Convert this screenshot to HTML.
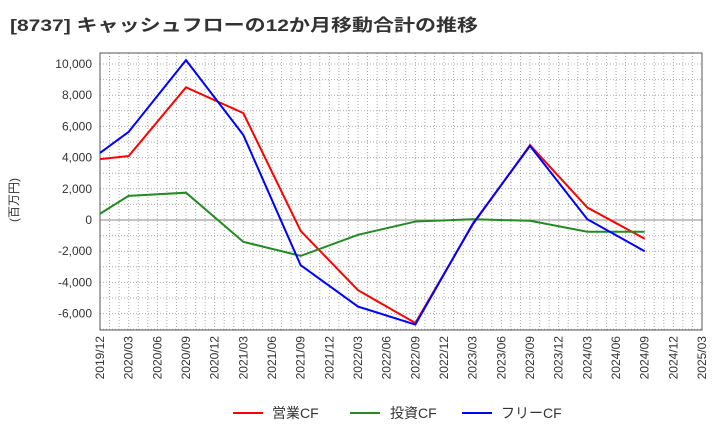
<!DOCTYPE html>
<html><head><meta charset="utf-8"><style>
body{margin:0;background:#fff;}
svg text{font-family:"Liberation Sans","Noto Sans CJK JP",sans-serif;}
</style></head><body>
<svg id="chart" width="720" height="440" viewBox="0 0 720 440">
<text x="10" y="31" font-size="17" font-weight="bold" fill="#333" textLength="468" lengthAdjust="spacingAndGlyphs">[8737]  キャッシュフローの12か月移動合計の推移</text>
<g id="grid"></g><g id="axes"></g><g id="series"></g>
<text transform="translate(18,200) rotate(-90)" font-size="12" fill="#333" text-anchor="middle">(百万円)</text>
<g>
<line x1="233" y1="413" x2="263" y2="413" stroke="#f00" stroke-width="2"/><text x="272" y="418" font-size="14" fill="#333">営業CF</text>
<line x1="350" y1="413" x2="380" y2="413" stroke="#228b22" stroke-width="2"/><text x="390" y="418" font-size="14" fill="#333">投資CF</text>
<line x1="462" y1="413" x2="492" y2="413" stroke="#00f" stroke-width="2"/><text x="501" y="418" font-size="14" fill="#333">フリーCF</text>
</g>
</svg>
<script>
const xLabels=["2019/12","2020/03","2020/06","2020/09","2020/12","2021/03","2021/06","2021/09","2021/12","2022/03","2022/06","2022/09","2022/12","2023/03","2023/06","2023/09","2023/12","2024/03","2024/06","2024/09","2024/12","2025/03"];
const pointIdx=[0,1,3,5,7,9,11,13,15,17,19];
const operatingCF=[3900,4100,8500,6850,-700,-4500,-6600,-300,4800,800,-1200];
const investingCF=[400,1550,1750,-1400,-2300,-950,-100,50,-50,-750,-750];
const freeCF=[4300,5650,10250,5450,-2900,-5550,-6700,-250,4750,50,-2000];
const yTicks=[-6000,-4000,-2000,0,2000,4000,6000,8000,10000];
const L=100,R=702,T=53,B=330;
const X=q=>L+q*(R-L)/21;
const Y=v=>220-v*0.0156;
const NS="http://www.w3.org/2000/svg";
function mk(t,a,p){const e=document.createElementNS(NS,t);for(const k in a)e.setAttribute(k,a[k]);p.appendChild(e);return e;}
const grid=document.getElementById('grid'),axes=document.getElementById('axes'),ser=document.getElementById('series');
for(let m=0;m<=63;m++){const x=L+m*(R-L)/63;const g=mk('line',{x1:x,x2:x,y1:T,y2:B,stroke:'#aaa','stroke-width':1,'stroke-dasharray':'1,2'},grid);}
for(let v=-7000;v<=10000;v+=1000){const y=Y(v);const g=mk('line',{x1:L,x2:R,y1:y,y2:y,stroke:'#aaa','stroke-width':1,'stroke-dasharray':'1,2'},grid);}
const z=mk('line',{x1:L,x2:R,y1:Y(0),y2:Y(0),stroke:'#888','stroke-width':1},axes);
const fr=mk('rect',{x:L,y:T,width:R-L,height:B-T,fill:'none',stroke:'#555','stroke-width':1},axes);
yTicks.forEach(v=>{const t=mk('text',{x:L-8,y:Y(v)+4,'font-size':12,fill:'#333','text-anchor':'end'},axes);t.textContent=v.toLocaleString('en-US');});
xLabels.forEach((s,i)=>{const x=X(i);const t=mk('text',{transform:`translate(${x+4},${B+6}) rotate(-90)`,'font-size':12,fill:'#333','text-anchor':'end'},axes);t.textContent=s;});
[[operatingCF,'#f00','operating-cf-line'],[investingCF,'#228b22','investing-cf-line'],[freeCF,'#00f','free-cf-line']].forEach(([d,c,n])=>{
const p=mk('polyline',{points:d.map((v,i)=>X(pointIdx[i])+','+Y(v)).join(' '),fill:'none',stroke:c,'stroke-width':2},ser);
});
</script>
</body></html>
